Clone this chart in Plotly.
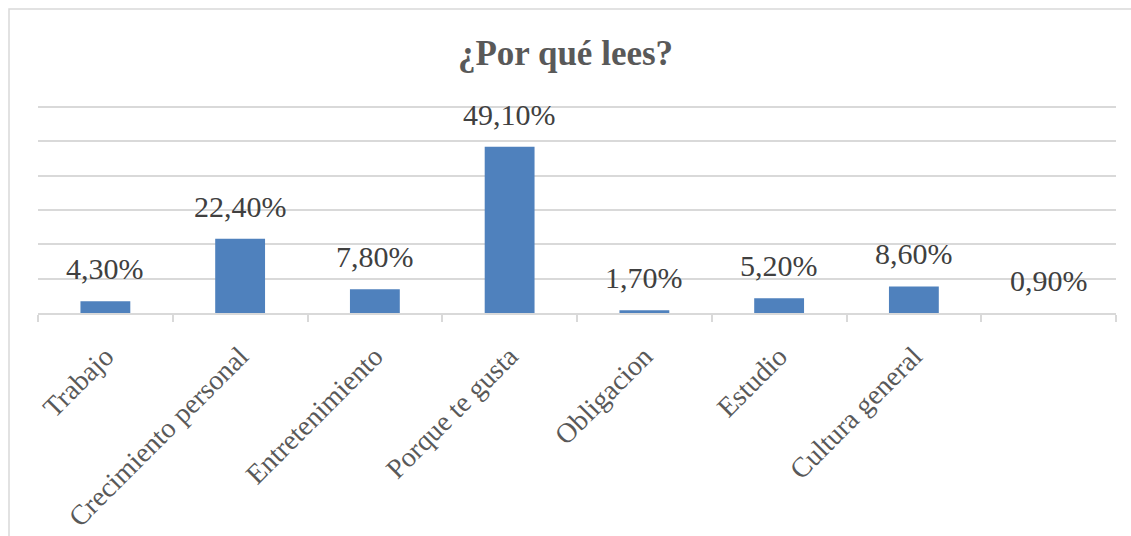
import plotly.graph_objects as go

categories = ["Trabajo", "Crecimiento personal", "Entretenimiento", "Porque te gusta",
              "Obligacion", "Estudio", "Cultura general", " "]
values = [4.3, 22.4, 7.8, 49.1, 1.7, 5.2, 8.6, 0.9]
labels = [f"{v:.2f}%".replace(".", ",") for v in values]
title_text = "¿Por qué lees?"

SERIF = "Liberation Serif, Times New Roman, serif"

W, H = 1131, 536
L, R, T, B = 38, 15, 105, 223
plot_w = W - L - R
plot_h = H - T - B

y_min, y_max = 0.9, 60.6
dtick = (y_max - y_min) / 6
px_per_unit = 206.6 / (y_max - y_min)
y_top = y_max + 2.0 / px_per_unit  # small headroom so the top gridline is drawn

fig = go.Figure()
fig.add_trace(go.Bar(
    x=categories, y=values,
    marker=dict(color="#4F81BD", line=dict(width=0)),
    hoverinfo="x+y",
))

for c, v, t in zip(categories, values, labels):
    fig.add_annotation(x=c, y=v, text=t, showarrow=False, yanchor="bottom",
                       yshift=14, font=dict(family=SERIF, size=30, color="#404040"))

# outer chart border (cut off at right and bottom like the reference)
fig.add_shape(type="rect", xref="paper", yref="paper",
              x0=(9 - L) / plot_w, x1=(W + 20 - L) / plot_w,
              y0=-(H + 20 - (T + plot_h)) / plot_h, y1=(T + plot_h - 9) / plot_h,
              line=dict(color="#D9D9D9", width=1.5), fillcolor="rgba(0,0,0,0)", layer="below")

fig.update_layout(
    width=W, height=H,
    margin=dict(l=L, r=R, t=T, b=B, autoexpand=False),
    paper_bgcolor="white", plot_bgcolor="white",
    bargap=0.63,
    showlegend=False,
    font=dict(family=SERIF),
    title=dict(text="<b>" + title_text + "</b>", x=0.5, xanchor="center",
               y=1 - 53 / H, yanchor="middle",
               font=dict(family=SERIF, size=35, color="#595959")),
    xaxis=dict(
        type="category",
        automargin=False,
        tickangle=-45,
        tickfont=dict(family=SERIF, size=28, color="#595959"),
        showline=True, linecolor="#D9D9D9", linewidth=1.5,
        ticks="outside", tickson="boundaries", ticklen=7, tickcolor="#D9D9D9", tickwidth=1.5,
        ticklabelstandoff=14,
        showgrid=False,
    ),
    yaxis=dict(
        range=[y_min, y_top],
        automargin=False,
        tick0=y_min, dtick=dtick,
        showticklabels=False,
        showgrid=True, gridcolor="#D9D9D9", gridwidth=1.5,
        zeroline=False, showline=False, ticks="",
    ),
)

fig.write_html("out.html",
               config={"displayModeBar": False},
               post_script="document.body.style.margin='0';document.body.style.padding='0';")
